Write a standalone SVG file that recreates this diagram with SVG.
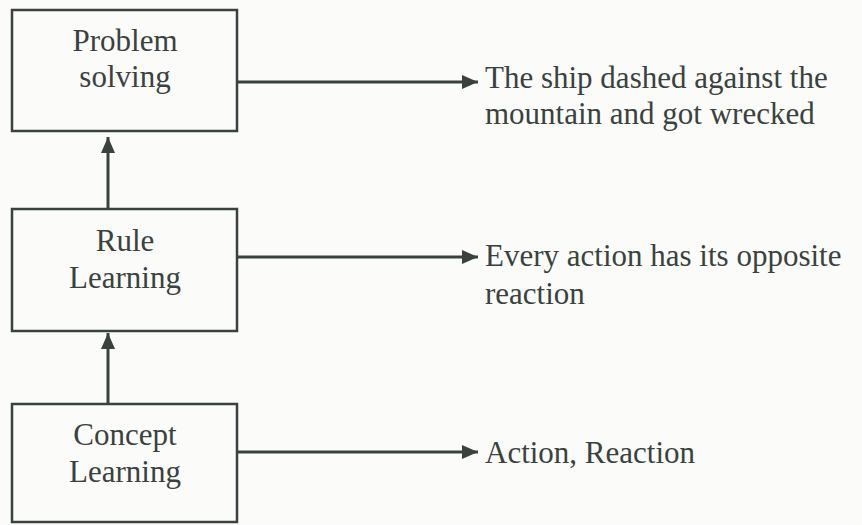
<svg xmlns="http://www.w3.org/2000/svg" width="862" height="525" viewBox="0 0 862 525">
  <defs>
    <marker id="arr" markerUnits="userSpaceOnUse" markerWidth="18" markerHeight="18" refX="16" refY="8" orient="auto">
      <path d="M0,1 L16,8 L0,15 z" fill="#3a423e"/>
    </marker>
    <style>
      .box { fill: none; stroke: #3a423e; stroke-width: 2.5; }
      .lbl { font-family: "Liberation Serif", "Times New Roman", serif; font-size: 31px; fill: #3a423e; }
      .mid { text-anchor: middle; }
      .edge { stroke: #3a423e; stroke-width: 3; fill: none; marker-end: url(#arr); }
    </style>
  </defs>
  <rect x="0" y="0" width="862" height="525" fill="#fbfbfa"/>
  <g id="node-problem-solving">
    <rect class="box" x="12" y="10" width="225" height="121"/>
    <text class="lbl mid" x="125" y="51">Problem</text>
    <text class="lbl mid" x="125" y="87">solving</text>
  </g>
  <g id="node-rule-learning">
    <rect class="box" x="12" y="209" width="225" height="122"/>
    <text class="lbl mid" x="125" y="251">Rule</text>
    <text class="lbl mid" x="125" y="288">Learning</text>
  </g>
  <g id="node-concept-learning">
    <rect class="box" x="12" y="404" width="225" height="118"/>
    <text class="lbl mid" x="125" y="445">Concept</text>
    <text class="lbl mid" x="125" y="482">Learning</text>
  </g>
  <g id="node-ship-text">
    <text class="lbl" x="485" y="88">The ship dashed against the</text>
    <text class="lbl" x="485" y="124">mountain and got wrecked</text>
  </g>
  <g id="node-action-text">
    <text class="lbl" x="485" y="266">Every action has its opposite</text>
    <text class="lbl" x="485" y="304">reaction</text>
  </g>
  <g id="node-concept-text">
    <text class="lbl" x="485" y="463">Action, Reaction</text>
  </g>
  <g id="connectors">
    <line class="edge" x1="108" y1="209" x2="108" y2="137"/>
    <line class="edge" x1="108" y1="404" x2="108" y2="333"/>
    <line class="edge" x1="237" y1="82" x2="478" y2="82"/>
    <line class="edge" x1="237" y1="257" x2="478" y2="257"/>
    <line class="edge" x1="237" y1="452" x2="478" y2="452"/>
  </g>
</svg>
